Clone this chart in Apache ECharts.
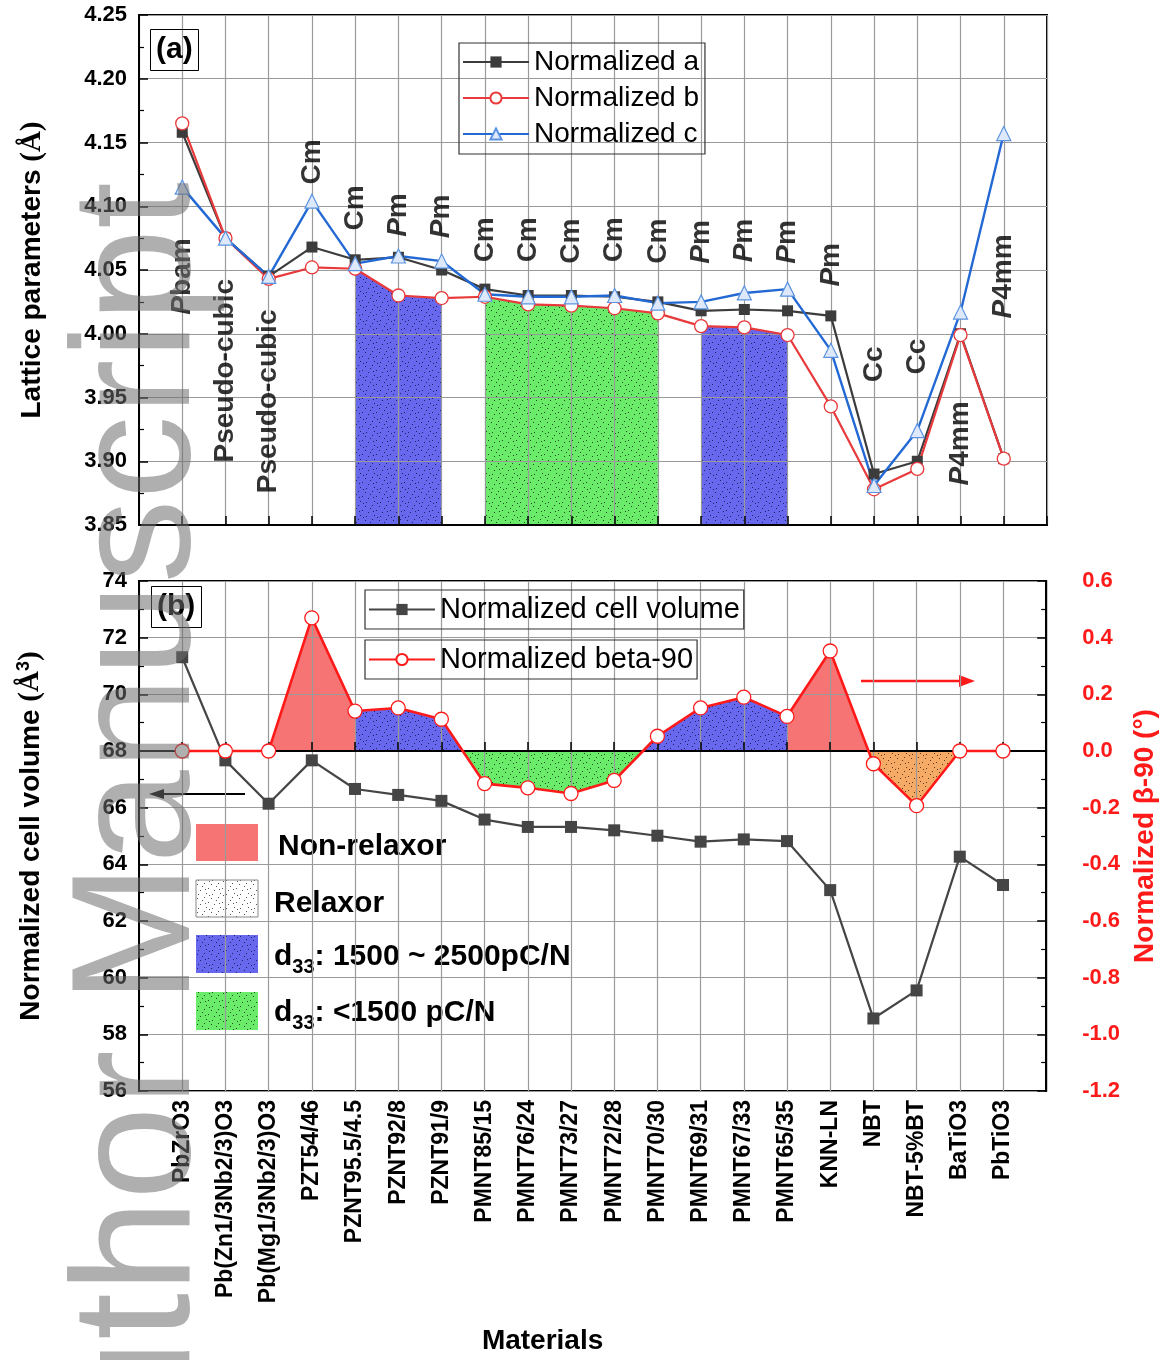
<!DOCTYPE html>
<html lang="en">
<head>
<meta charset="UTF-8">
<title>Lattice parameters and cell volume</title>
<style>
  html, body { margin: 0; padding: 0; background: #fff; }
  #main { width: 1167px; height: 1360px; }
</style>
</head>
<body>
<div id="main"></div>
<script src="https://cdn.jsdelivr.net/npm/echarts@6/dist/echarts.min.js"></script>
<script>
  var FONT = '"Liberation Sans", Arial, sans-serif';

  var materials = ['PbZrO3', 'Pb(Zn1/3Nb2/3)O3', 'Pb(Mg1/3Nb2/3)O3', 'PZT54/46', 'PZNT95.5/4.5', 'PZNT92/8',
    'PZNT91/9', 'PMNT85/15', 'PMNT76/24', 'PMNT73/27', 'PMNT72/28', 'PMNT70/30', 'PMNT69/31', 'PMNT67/33',
    'PMNT65/35', 'KNN-LN', 'NBT', 'NBT-5%BT', 'BaTiO3', 'PbTiO3'];

  // panel (a)
  var normA = [4.158, 4.075, 4.045, 4.068, 4.058, 4.060, 4.050, 4.035, 4.030, 4.030, 4.029, 4.025, 4.018, 4.019, 4.018, 4.014, 3.890, 3.900, 4.000, 3.902];
  var normB = [4.165, 4.075, 4.043, 4.052, 4.051, 4.030, 4.028, 4.029, 4.023, 4.022, 4.020, 4.016, 4.006, 4.005, 3.999, 3.943, 3.878, 3.894, 3.999, 3.902];
  var normC = [4.115, 4.075, 4.045, 4.104, 4.055, 4.061, 4.057, 4.031, 4.029, 4.029, 4.030, 4.024, 4.025, 4.032, 4.035, 3.987, 3.881, 3.924, 4.017, 4.157];
  var phaseText = ['Pbam', 'Pseudo-cubic', 'Pseudo-cubic', 'Cm', 'Cm', 'Pm', 'Pm', 'Cm', 'Cm', 'Cm', 'Cm', 'Cm',
    'Pm', 'Pm', 'Pm', 'Pm', 'Cc', 'Cc', 'P4mm', 'P4mm'];
  // value where each rotated phase label starts
  var phaseBase = [4.015, 3.899, 3.875, 4.117, 4.081, 4.076, 4.075, 4.056, 4.056, 4.055, 4.056, 4.055,
    4.055, 4.056, 4.055, 4.037, 3.962, 3.968, 3.881, 4.012];
  // shaded ranges under normalized b (category numbers, 1-based)
  var fillA = [['blue', 5, 7], ['green', 8, 12], ['blue', 13, 15]];

  // panel (b)
  var volume = [71.31, 67.67, 66.14, 67.67, 66.66, 66.45, 66.24, 65.58, 65.32, 65.32, 65.20, 65.01, 64.80, 64.88, 64.82, 63.09, 58.56, 59.55, 64.27, 63.27];
  var beta = [0, 0, 0, 0.47, 0.141, 0.152, 0.112, -0.115, -0.13, -0.15, -0.104, 0.052, 0.152, 0.19, 0.122, 0.353, -0.045, -0.193, 0, 0];
  // [kind, from, to, start at zero crossing, end at zero crossing]
  var fillB = [
    ['red', 3, 5, false, false],
    ['blue', 5, 7, false, true],
    ['green', 7, 11, true, true],
    ['blue', 11, 15, true, false],
    ['red', 15, 16, false, true],
    ['orange', 16, 19, true, false]
  ];

  function dotPattern(base, dot) {
    var c = document.createElement('canvas');
    c.width = 14; c.height = 14;
    var g = c.getContext('2d');
    g.fillStyle = base;
    g.fillRect(0, 0, 14, 14);
    g.fillStyle = dot;
    [[1, 2], [8, 1], [12, 6], [4, 8], [10, 11], [2, 12], [6, 4], [13, 13], [9, 7]].forEach(function (p) {
      g.fillRect(p[0], p[1], 1, 1);
    });
    return { image: c, repeat: 'repeat' };
  }

  var fills = {
    red: '#f77474',
    blue: dotPattern('#6868ee', '#202060'),
    green: dotPattern('#6aec6a', '#1c4a1c'),
    orange: dotPattern('#f5aa66', '#5a3a1a'),
    white: dotPattern('#ffffff', '#555555')
  };

  function pairs(arr) {
    return arr.map(function (v, i) { return [i + 1, v]; });
  }
  function crossAt(i) {
    var y0 = beta[i - 1], y1 = beta[i];
    return i + y0 / (y0 - y1);
  }
  function betaSegment(s) {
    var out = [], i0 = s[1], i1 = s[2];
    if (s[3]) { out.push([crossAt(i0), 0]); i0++; }
    for (var i = i0; i <= i1; i++) out.push([i, beta[i - 1]]);
    if (s[4]) out.push([crossAt(i1), 0]);
    return out;
  }

  var series = [];

  fillA.forEach(function (r) {
    var d = [];
    for (var i = r[1]; i <= r[2]; i++) d.push([i, normB[i - 1]]);
    series.push({
      type: 'line', xAxisIndex: 0, yAxisIndex: 0, data: d, symbol: 'none', silent: true, z: -1,
      lineStyle: { width: 0 }, areaStyle: { color: fills[r[0]], opacity: 1, origin: 'start' }
    });
  });

  series.push({
    name: 'Normalized a', type: 'line', xAxisIndex: 0, yAxisIndex: 0, data: pairs(normA),
    symbol: 'rect', symbolSize: 11,
    lineStyle: { color: '#3c3c3c', width: 2.2 }, itemStyle: { color: '#3c3c3c' }
  });
  series.push({
    name: 'Normalized b', type: 'line', xAxisIndex: 0, yAxisIndex: 0, data: pairs(normB),
    symbol: 'circle', symbolSize: 13,
    lineStyle: { color: '#e8393b', width: 2.2 }, itemStyle: { color: '#fff', borderColor: '#e8393b', borderWidth: 1.3 }
  });
  series.push({
    name: 'Normalized c', type: 'line', xAxisIndex: 0, yAxisIndex: 0, data: pairs(normC),
    symbol: 'triangle', symbolSize: 14,
    lineStyle: { color: '#2369d4', width: 2.4 }, itemStyle: { color: '#dde9fb', borderColor: '#5b93e0', borderWidth: 1.2 }
  });

  series.push({
    type: 'scatter', xAxisIndex: 0, yAxisIndex: 0, symbolSize: 1, silent: true,
    itemStyle: { color: 'rgba(0,0,0,0)' },
    data: phaseText.map(function (t, i) { return { value: [i + 1, phaseBase[i]], name: t }; }),
    label: {
      show: true, position: 'inside', rotate: 90, align: 'left', verticalAlign: 'middle',
      formatter: function (p) {
        var t = p.name;
        if (t.charAt(0) === 'P' && t.indexOf('Pseudo') !== 0) return '{i|P}{n|' + t.slice(1) + '}';
        return '{n|' + t + '}';
      },
      rich: {
        i: { fontSize: 28, fontWeight: 'bold', fontStyle: 'italic', color: '#000', fontFamily: FONT },
        n: { fontSize: 28, fontWeight: 'bold', color: '#000', fontFamily: FONT }
      }
    }
  });

  fillB.forEach(function (s) {
    series.push({
      type: 'line', xAxisIndex: 1, yAxisIndex: 2, data: betaSegment(s), symbol: 'none', silent: true, z: -1,
      lineStyle: { width: 0 }, areaStyle: { color: fills[s[0]], opacity: 1, origin: 'auto' }
    });
  });

  series.push({
    name: 'Normalized cell volume', type: 'line', xAxisIndex: 1, yAxisIndex: 1, data: pairs(volume),
    symbol: 'rect', symbolSize: 12,
    lineStyle: { color: '#454545', width: 2.2 }, itemStyle: { color: '#454545' }
  });
  series.push({
    name: 'Normalized beta-90', type: 'line', xAxisIndex: 1, yAxisIndex: 2, data: pairs(beta),
    symbol: 'circle', symbolSize: 14,
    lineStyle: { color: '#ff1a1a', width: 2.6 }, itemStyle: { color: '#fff', borderColor: '#ff1a1a', borderWidth: 1.3 }
  });

  var gridLine = { show: true, lineStyle: { color: '#9a9a9a', width: 1.2 } };
  var tickLbl = { fontSize: 22, fontWeight: 'bold', color: '#000', fontFamily: FONT };

  var option = {
    animation: false,
    backgroundColor: '#fff',
    textStyle: { fontFamily: FONT },
    title: [
      { text: '(a)', left: 150, top: 29, padding: [6, 6, 6, 6], borderColor: '#000', borderWidth: 1,
        textStyle: { fontSize: 30, fontWeight: 'bold', color: '#000', fontFamily: FONT } },
      { text: '(b)', left: 151, top: 586, padding: [6, 6, 6, 6], borderColor: '#000', borderWidth: 1,
        textStyle: { fontSize: 30, fontWeight: 'bold', color: '#000', fontFamily: FONT } }
    ],
    legend: [
      { data: ['Normalized a', 'Normalized b', 'Normalized c'], orient: 'vertical', left: 459, top: 43,
        padding: [5, 6, 6, 3], itemGap: 8, itemWidth: 66, itemHeight: 14, borderColor: '#333', borderWidth: 1.2,
        textStyle: { fontSize: 28, color: '#000', fontFamily: FONT } },
      { data: ['Normalized cell volume'], left: 365, top: 590, padding: [5, 4, 5, 3], itemWidth: 66, itemHeight: 14,
        borderColor: '#333', borderWidth: 1.2, textStyle: { fontSize: 29, color: '#000', fontFamily: FONT } },
      { data: ['Normalized beta-90'], left: 365, top: 640, padding: [5, 4, 5, 3], itemWidth: 66, itemHeight: 14,
        borderColor: '#333', borderWidth: 1.2, textStyle: { fontSize: 29, color: '#000', fontFamily: FONT } }
    ],
    grid: [
      { left: 139, top: 15, width: 908, height: 510, show: true, borderColor: '#000', borderWidth: 2 },
      { left: 139, top: 581, width: 908, height: 510, show: true, borderColor: '#000', borderWidth: 2 }
    ],
    xAxis: [
      { type: 'value', gridIndex: 0, min: 0, max: 21, interval: 1,
        axisLine: { lineStyle: { color: '#000', width: 2 } },
        axisTick: { inside: true, length: 9, lineStyle: { color: '#000', width: 1.5 } },
        axisLabel: { show: false }, splitLine: gridLine },
      { type: 'value', gridIndex: 1, min: 0, max: 21, interval: 1,
        name: 'Materials', nameLocation: 'middle', nameGap: 236,
        nameTextStyle: { fontSize: 28, fontWeight: 'bold', color: '#000', padding: [0, 100, 0, 0], fontFamily: FONT },
        axisLine: { lineStyle: { color: '#000', width: 2 } },
        axisTick: { inside: true, length: 9, lineStyle: { color: '#000', width: 1.5 } },
        axisLabel: Object.assign({ rotate: 90, margin: 9, formatter: function (v) { return materials[v - 1] || ''; } }, tickLbl, { fontSize: 23 }),
        splitLine: gridLine }
    ],
    yAxis: [
      { type: 'value', gridIndex: 0, min: 3.85, max: 4.25, interval: 0.05,
        name: '{t|Lattice parameters }{s|(Å)}', nameLocation: 'middle', nameGap: 92,
        nameTextStyle: { rich: {
          t: { fontSize: 28, fontWeight: 'bold', color: '#000', fontFamily: FONT },
          s: { fontSize: 29, fontWeight: 'bold', color: '#000', fontFamily: '"Liberation Serif", serif' } } },
        axisLine: { lineStyle: { color: '#000', width: 2 } },
        axisTick: { inside: true, length: 9, lineStyle: { color: '#000', width: 1.5 } },
        minorTick: { show: true, splitNumber: 2, length: 5, lineStyle: { color: '#000', width: 1.2 } },
        axisLabel: Object.assign({ margin: 12, formatter: function (v) { return v.toFixed(2); } }, tickLbl),
        splitLine: gridLine },
      { type: 'value', gridIndex: 1, min: 56, max: 74, interval: 2,
        name: '{t|Normalized cell volume }{s|(Å}{p|3}{s|)}', nameLocation: 'middle', nameGap: 92,
        nameTextStyle: { rich: {
          t: { fontSize: 28, fontWeight: 'bold', color: '#000', fontFamily: FONT },
          s: { fontSize: 29, fontWeight: 'bold', color: '#000', fontFamily: '"Liberation Serif", serif' },
          p: { fontSize: 18, fontWeight: 'bold', color: '#000', fontFamily: FONT, padding: [0, 0, 14, 0] } } },
        axisLine: { lineStyle: { color: '#000', width: 2 } },
        axisTick: { inside: true, length: 9, lineStyle: { color: '#000', width: 1.5 } },
        minorTick: { show: true, splitNumber: 2, length: 5, lineStyle: { color: '#000', width: 1.2 } },
        axisLabel: Object.assign({ margin: 12 }, tickLbl),
        splitLine: gridLine },
      { type: 'value', gridIndex: 1, position: 'right', min: -1.2, max: 0.6, interval: 0.2,
        name: 'Normalized β-90 (°)', nameLocation: 'middle', nameGap: 82,
        nameTextStyle: { fontSize: 28, fontWeight: 'bold', color: '#ff1a1a', fontFamily: FONT },
        axisLine: { lineStyle: { color: '#000', width: 2 } },
        axisTick: { inside: true, length: 9, lineStyle: { color: '#000', width: 1.5 } },
        minorTick: { show: true, splitNumber: 2, length: 5, lineStyle: { color: '#000', width: 1.2 } },
        axisLabel: Object.assign({ margin: 36, formatter: function (v) { return v.toFixed(1); } }, tickLbl, { color: '#ff1a1a' }),
        splitLine: { show: false } }
    ],
    graphic: [
      // arrows pointing to the axes
      { type: 'line', shape: { x1: 245, y1: 794, x2: 158, y2: 794 }, style: { stroke: '#000', lineWidth: 2 } },
      { type: 'polygon', shape: { points: [[149, 794], [164, 789], [164, 799]] }, style: { fill: '#000' } },
      { type: 'line', shape: { x1: 861, y1: 681, x2: 962, y2: 681 }, style: { stroke: '#ff1a1a', lineWidth: 2.5 } },
      { type: 'polygon', shape: { points: [[975, 681], [959, 675], [959, 687]] }, style: { fill: '#ff1a1a' } },
      // shading key
      { type: 'rect', shape: { x: 196, y: 824, width: 62, height: 37 }, style: { fill: fills.red } },
      { type: 'text', x: 278, y: 847, style: { text: 'Non-relaxor', font: 'bold 30px ' + FONT, fill: '#000', verticalAlign: 'middle' } },
      { type: 'rect', shape: { x: 196, y: 880, width: 62, height: 37 }, style: { fill: fills.white, stroke: '#888', lineWidth: 1 } },
      { type: 'text', x: 274, y: 904, style: { text: 'Relaxor', font: 'bold 30px ' + FONT, fill: '#000', verticalAlign: 'middle' } },
      { type: 'rect', shape: { x: 196, y: 935, width: 62, height: 38 }, style: { fill: fills.blue } },
      { type: 'text', x: 274, y: 957, style: {
        text: '{b|d}{s|33}{b|: 1500 ~ 2500pC/N}', verticalAlign: 'middle', fill: '#000',
        rich: { b: { fontSize: 30, fontWeight: 'bold', fontFamily: FONT, lineHeight: 40 },
                s: { fontSize: 20, fontWeight: 'bold', fontFamily: FONT, lineHeight: 20, padding: [20, 0, 0, 0] } } } },
      { type: 'rect', shape: { x: 196, y: 992, width: 62, height: 38 }, style: { fill: fills.green } },
      { type: 'text', x: 274, y: 1013, style: {
        text: '{b|d}{s|33}{b|: <1500 pC/N}', verticalAlign: 'middle', fill: '#000',
        rich: { b: { fontSize: 30, fontWeight: 'bold', fontFamily: FONT, lineHeight: 40 },
                s: { fontSize: 20, fontWeight: 'bold', fontFamily: FONT, lineHeight: 20, padding: [20, 0, 0, 0] } } } },
      // manuscript watermark
      { type: 'text', x: 143, y: 182, rotation: Math.PI / 2, silent: true, z: 100,
        style: { text: 'Author Manuscript', font: '168px ' + FONT, fill: 'rgba(110,110,110,0.55)', align: 'right', verticalAlign: 'middle' } }
    ],
    series: series
  };

  var chart = echarts.init(document.getElementById('main'));
  chart.setOption(option);
</script>
</body>
</html>
